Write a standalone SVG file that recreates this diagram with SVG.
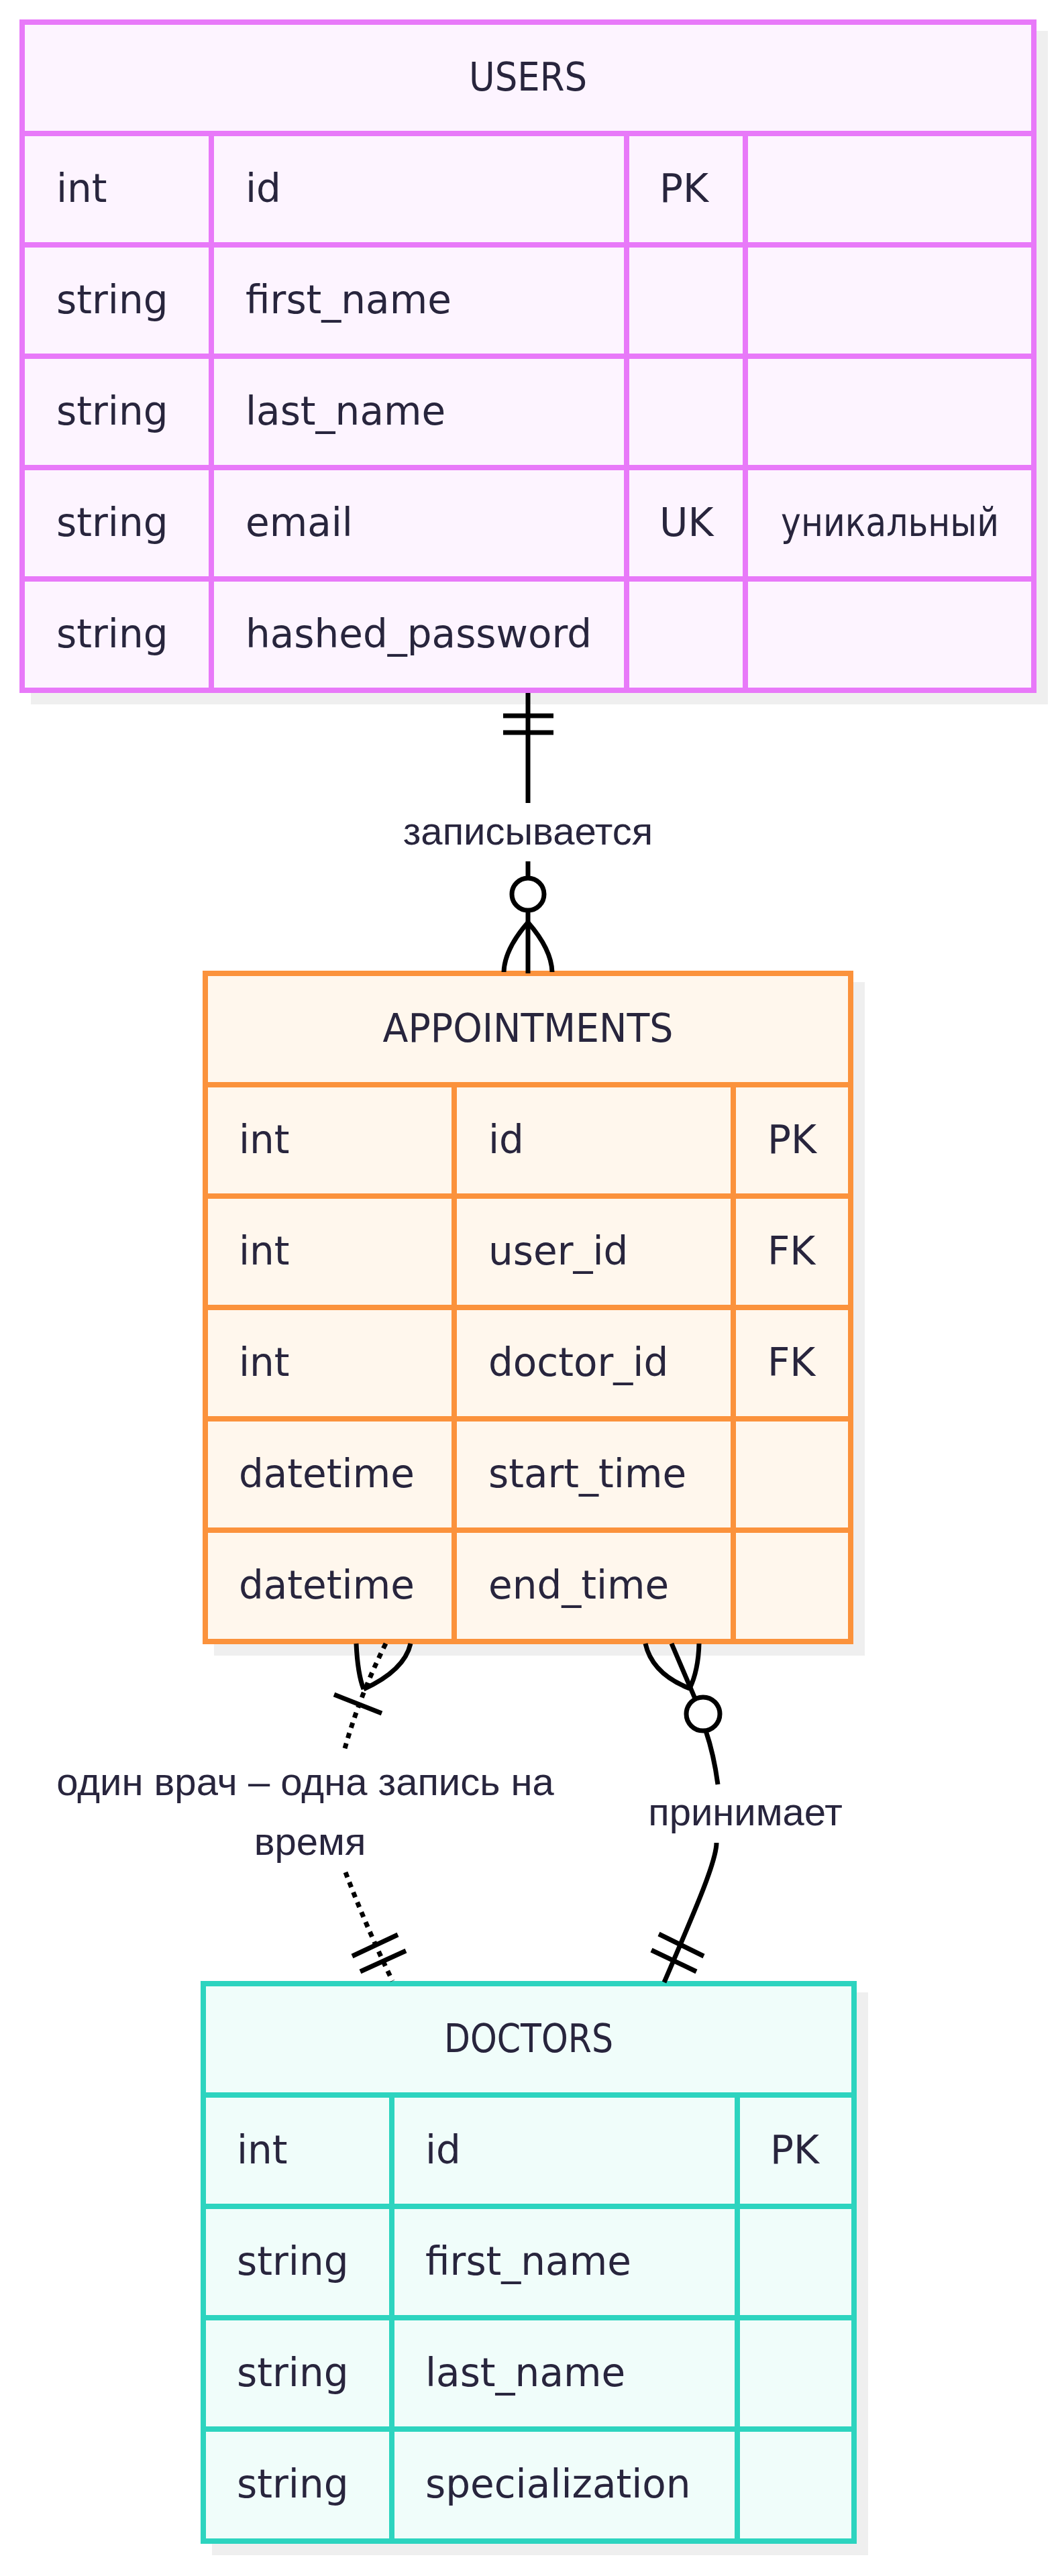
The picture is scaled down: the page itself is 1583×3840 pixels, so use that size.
<svg xmlns="http://www.w3.org/2000/svg" width="1583" height="3840" viewBox="0 0 1583 3840">
<style>
.bg{fill:#ffffff}
.shadow{fill:#efefef}
.t{font-family:"DejaVu Sans","Noto Sans",sans-serif;font-size:58px;fill:#28253d}
.h{text-anchor:middle}
.lbl{font-family:"Liberation Sans",Arial,sans-serif;font-size:58px;fill:#28253d;text-anchor:middle}
.u rect.box{fill:#fdf4ff;stroke:#e879f9;stroke-width:8}
.u line{stroke:#e879f9;stroke-width:8}
.a rect.box{fill:#fff7ed;stroke:#fb923c;stroke-width:8}
.a line{stroke:#fb923c;stroke-width:8}
.d rect.box{fill:#f0fdfa;stroke:#2dd4bf;stroke-width:8}
.d line{stroke:#2dd4bf;stroke-width:8}
.edge{fill:none;stroke:#000;stroke-width:7}
.dot{stroke-dasharray:8 8}
.ring{fill:#fff;stroke:#000;stroke-width:7}
</style>
<rect class="bg" x="0" y="0" width="1583" height="3840"/>

<g id="USERS" class="u">
<rect class="shadow" x="46" y="46" width="1516" height="1004"/>
<rect class="box" x="33" y="33" width="1508" height="996"/>
<line x1="33" y1="199" x2="1541" y2="199"/>
<line x1="33" y1="365" x2="1541" y2="365"/>
<line x1="33" y1="531" x2="1541" y2="531"/>
<line x1="33" y1="697" x2="1541" y2="697"/>
<line x1="33" y1="863" x2="1541" y2="863"/>
<line x1="315" y1="199" x2="315" y2="1029"/>
<line x1="934" y1="199" x2="934" y2="1029"/>
<line x1="1111" y1="199" x2="1111" y2="1029"/>
<text class="t h" x="787" y="135" textLength="176" lengthAdjust="spacingAndGlyphs">USERS</text>
<text class="t" x="84" y="301">int</text>
<text class="t" x="366" y="301">id</text>
<text class="t" x="983" y="301">PK</text>
<text class="t" x="84" y="467">string</text>
<text class="t" x="366" y="467">first_name</text>
<text class="t" x="84" y="633">string</text>
<text class="t" x="366" y="633">last_name</text>
<text class="t" x="84" y="799">string</text>
<text class="t" x="366" y="799">email</text>
<text class="t" x="983" y="799">UK</text>
<text class="t" x="1164" y="799" textLength="325" lengthAdjust="spacingAndGlyphs">уникальный</text>
<text class="t" x="84" y="965">string</text>
<text class="t" x="366" y="965">hashed_password</text>
</g>

<g id="APPOINTMENTS" class="a">
<rect class="shadow" x="319" y="1464" width="970" height="1004"/>
<rect class="box" x="306" y="1451" width="962" height="996"/>
<line x1="306" y1="1617" x2="1268" y2="1617"/>
<line x1="306" y1="1783" x2="1268" y2="1783"/>
<line x1="306" y1="1949" x2="1268" y2="1949"/>
<line x1="306" y1="2115" x2="1268" y2="2115"/>
<line x1="306" y1="2281" x2="1268" y2="2281"/>
<line x1="677" y1="1617" x2="677" y2="2447"/>
<line x1="1093" y1="1617" x2="1093" y2="2447"/>
<text class="t h" x="787" y="1553" textLength="433" lengthAdjust="spacingAndGlyphs">APPOINTMENTS</text>
<text class="t" x="356" y="1719">int</text>
<text class="t" x="728" y="1719">id</text>
<text class="t" x="1144" y="1719">PK</text>
<text class="t" x="356" y="1885">int</text>
<text class="t" x="728" y="1885">user_id</text>
<text class="t" x="1144" y="1885">FK</text>
<text class="t" x="356" y="2051">int</text>
<text class="t" x="728" y="2051">doctor_id</text>
<text class="t" x="1144" y="2051">FK</text>
<text class="t" x="356" y="2217">datetime</text>
<text class="t" x="728" y="2217">start_time</text>
<text class="t" x="356" y="2383">datetime</text>
<text class="t" x="728" y="2383">end_time</text>
</g>

<g id="DOCTORS" class="d">
<rect class="shadow" x="316" y="2970" width="978" height="839"/>
<rect class="box" x="303" y="2957" width="970" height="831"/>
<line x1="303" y1="3123" x2="1273" y2="3123"/>
<line x1="303" y1="3289" x2="1273" y2="3289"/>
<line x1="303" y1="3455" x2="1273" y2="3455"/>
<line x1="303" y1="3621" x2="1273" y2="3621"/>
<line x1="584" y1="3123" x2="584" y2="3788"/>
<line x1="1099" y1="3123" x2="1099" y2="3788"/>
<text class="t h" x="788" y="3059" textLength="252" lengthAdjust="spacingAndGlyphs">DOCTORS</text>
<text class="t" x="353" y="3225">int</text>
<text class="t" x="634" y="3225">id</text>
<text class="t" x="1148" y="3225">PK</text>
<text class="t" x="353" y="3391">string</text>
<text class="t" x="634" y="3391">first_name</text>
<text class="t" x="353" y="3557">string</text>
<text class="t" x="634" y="3557">last_name</text>
<text class="t" x="353" y="3723">string</text>
<text class="t" x="634" y="3723">specialization</text>
</g>

<g id="connectors">
<path class="edge" d="M787,1033 L787,1197"/>
<path class="edge" d="M750,1067 L825,1067 M750,1092 L825,1092"/>
<path class="edge" d="M787,1284 L787,1451"/>
<path class="edge" d="M787,1375 Q752,1415 751,1449 M787,1375 Q822,1415 823,1449"/>
<circle class="ring" cx="787" cy="1333" r="24"/>
<text class="lbl" x="787" y="1259">записывается</text>

<path class="edge dot" d="M575,2450 Q535,2530 513,2610"/>
<path class="edge dot" d="M515,2791 Q545,2870 585,2953"/>
<path class="edge" d="M531,2450 Q533,2495 542,2518 M612,2450 Q603,2490 542,2518"/>
<path class="edge" d="M498,2526 L569,2554"/>
<path class="edge" d="M525,2916 L593,2884 M537,2939 L605,2908"/>
<text class="lbl" x="455" y="2676">один врач – одна запись на</text>
<text class="lbl" x="462" y="2765">время</text>

<path class="edge" d="M1001,2450 L1036,2532"/>
<path class="edge" d="M962,2450 Q972,2495 1028,2517 M1042,2450 Q1041,2490 1028,2517"/>
<circle class="ring" cx="1048" cy="2555" r="25"/>
<path class="edge" d="M1052,2580 Q1064,2615 1070,2660"/>
<path class="edge" d="M1068,2747 C1068,2775 1035,2850 990,2955"/>
<path class="edge" d="M982,2883 L1049,2916 M971,2907 L1038,2939"/>
<text class="lbl" x="1111" y="2721">принимает</text>
</g>
</svg>
